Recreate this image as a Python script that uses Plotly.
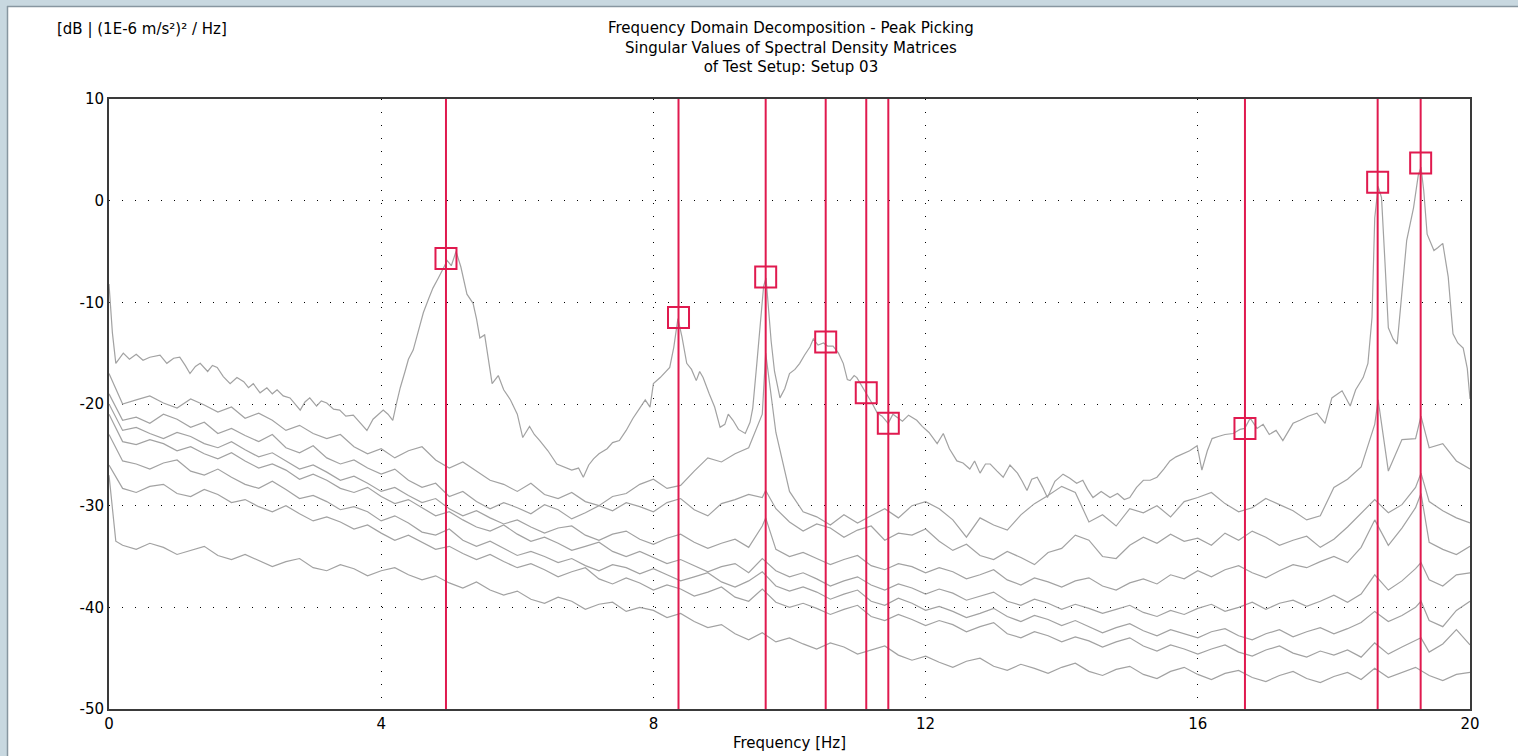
import numpy as np
import plotly.graph_objects as go

# ---------------- data ----------------
# first singular value (own, irregular frequency grid) [Hz], [dB]
sv1_f = [0.00, 0.05, 0.10, 0.21, 0.30, 0.40, 0.50, 0.60, 0.75, 0.85, 0.95, 1.04, 1.12, 1.19, 1.27, 1.34,
         1.45, 1.52, 1.59, 1.68, 1.78, 1.88, 1.98, 2.05, 2.12, 2.22, 2.32, 2.40, 2.47, 2.56, 2.66, 2.74,
         2.81, 2.88, 2.95, 3.05, 3.12, 3.20, 3.30, 3.39, 3.48, 3.59, 3.68, 3.79, 3.88, 3.96, 4.03, 4.10,
         4.17, 4.23, 4.28, 4.35, 4.40, 4.47, 4.55, 4.62, 4.70, 4.76, 4.84, 4.90, 4.97, 5.03, 5.10, 5.17,
         5.26, 5.35, 5.40, 5.45, 5.52, 5.63, 5.72, 5.80, 5.90, 6.00, 6.08, 6.18, 6.25, 6.33, 6.45, 6.58,
         6.68, 6.80, 6.90, 6.97, 7.05, 7.12, 7.20, 7.32, 7.40, 7.50, 7.60, 7.70, 7.80, 7.88, 7.95, 8.00,
         8.10, 8.18, 8.24, 8.30, 8.36, 8.42, 8.49, 8.56, 8.63, 8.68, 8.73, 8.82, 8.90, 8.98, 9.05, 9.10,
         9.17, 9.25, 9.35, 9.42, 9.46, 9.52, 9.57, 9.62, 9.655, 9.69, 9.73, 9.78, 9.86, 9.93, 10.00, 10.08,
         10.15, 10.22, 10.30, 10.35, 10.42, 10.50, 10.56, 10.64, 10.72, 10.79, 10.85, 10.89, 10.95, 10.99,
         11.06, 11.14, 11.22, 11.29, 11.36, 11.45, 11.52, 11.58, 11.66, 11.75, 11.87, 11.95, 12.05, 12.17,
         12.26, 12.35, 12.46, 12.55, 12.65, 12.72, 12.80, 12.88, 12.95, 13.05, 13.14, 13.24, 13.35, 13.42,
         13.49, 13.56, 13.64, 13.72, 13.79, 13.90, 14.02, 14.12, 14.22, 14.31, 14.38, 14.46, 14.58, 14.71,
         14.82, 14.92, 15.00, 15.10, 15.20, 15.30, 15.40, 15.50, 15.59, 15.68, 15.78, 15.88, 15.99, 16.06,
         16.14, 16.21, 16.30, 16.40, 16.52, 16.62, 16.69, 16.77, 16.87, 16.96, 17.05, 17.15, 17.25, 17.40,
         17.50, 17.62, 17.75, 17.87, 17.97, 18.05, 18.12, 18.24, 18.32, 18.43, 18.50, 18.56, 18.60, 18.65,
         18.70, 18.75, 18.80, 18.87, 18.93, 19.00, 19.07, 19.17, 19.24, 19.28, 19.32, 19.37, 19.47, 19.53,
         19.60, 19.68, 19.75, 19.82, 19.90, 19.96, 20.00]
sv1_db = [-8.2, -13.0, -16.0, -15.0, -15.6, -15.1, -15.7, -15.4, -15.2, -16.0, -15.5, -15.4, -16.2, -17.0, -16.3, -16.0,
          -16.8, -16.2, -16.4, -17.3, -18.0, -17.4, -17.8, -18.4, -18.0, -18.9, -18.4, -19.0, -18.6, -19.2, -19.4, -20.0,
          -20.6, -19.8, -19.4, -20.2, -19.7, -19.9, -20.5, -20.6, -21.2, -21.1, -21.8, -22.6, -21.5, -21.0, -20.6, -21.0,
          -21.6, -19.8, -18.4, -16.8, -15.6, -14.7, -12.6, -11.0, -9.6, -8.6, -7.6, -6.8, -5.9, -6.4, -5.0, -6.5,
          -9.2, -10.1, -11.6, -13.5, -13.2, -18.0, -17.2, -18.6, -19.6, -21.0, -23.3, -22.2, -23.0, -23.6, -24.6, -25.9,
          -26.2, -26.5, -26.3, -27.2, -26.0, -25.4, -24.9, -24.4, -23.8, -23.6, -22.6, -21.4, -20.4, -19.6, -20.3, -18.0,
          -17.4, -16.8, -16.4, -14.4, -11.6, -13.4, -16.0, -16.6, -17.7, -16.8, -17.4, -19.0, -20.3, -22.3, -22.0, -21.0,
          -21.6, -22.5, -22.9, -21.8, -20.4, -16.0, -12.1, -8.4, -7.6, -10.6, -13.8, -16.8, -19.4, -18.5, -17.0, -16.6,
          -16.0, -15.2, -14.4, -13.6, -14.2, -14.0, -14.3, -14.3, -15.0, -16.0, -17.6, -17.7, -17.2, -17.4,
          -18.2, -19.0, -20.0, -20.9, -21.2, -21.9, -21.0, -21.3, -21.7, -21.1, -21.6, -22.2, -22.8, -23.9,
          -22.9, -24.4, -25.6, -25.8, -26.4, -25.6, -26.8, -25.9, -25.9, -26.6, -27.2, -26.0, -26.8, -27.6,
          -28.5, -27.4, -27.2, -28.2, -29.2, -27.6, -26.9, -27.3, -27.8, -27.5, -28.4, -29.2, -28.6, -29.2,
          -28.8, -29.4, -29.2, -28.2, -27.5, -27.5, -27.2, -26.4, -25.6, -25.2, -24.9, -24.6, -24.1, -26.5,
          -24.6, -23.4, -23.2, -23.0, -22.9, -22.5, -22.4, -21.4, -22.4, -22.0, -23.0, -22.6, -23.6, -21.9,
          -21.6, -21.2, -20.9, -21.9, -19.4, -19.0, -18.7, -20.2, -18.6, -17.4, -16.0, -11.5, -1.7, 1.4,
          0.3, -6.0, -12.5, -13.6, -14.1, -9.0, -3.9, -0.7, 2.5, 3.3, 1.0, -3.3, -4.9, -4.6,
          -4.2, -7.5, -13.1, -14.0, -14.5, -16.5, -19.5]

# lower singular values on a common 0.2 Hz grid (0.0 ... 20.0), plus a few extra points at the peaks
sv2_db = [-17.0, -20.0, -19.6, -19.2, -19.9, -20.4, -19.5, -20.1, -20.8, -20.3,
          -21.4, -20.9, -21.6, -22.6, -22.1, -22.9, -23.4, -23.0, -24.2, -24.9,
          -24.4, -25.3, -24.6, -24.2, -25.5, -26.3, -25.7, -26.6, -27.5, -27.9,
          -28.6, -27.8, -28.9, -29.3, -28.7, -29.6, -30.0, -29.1, -28.8, -27.9,
          -27.4, -28.3, -28.0, -26.6, -25.3, -25.7, -24.9, -24.3, -21.0, -22.8,
          -28.6, -30.6, -31.1, -31.9, -30.9, -31.7, -31.0, -30.3, -31.2, -30.0,
          -29.6, -30.3, -31.4, -33.1, -31.2, -31.9, -32.4, -30.9, -29.8, -29.0,
          -28.1, -28.7, -31.6, -30.9, -32.0, -30.3, -30.7, -30.0, -31.1, -29.6,
          -29.2, -28.7, -29.8, -30.6, -30.2, -29.3, -29.9, -30.5, -31.4, -31.0,
          -28.2, -27.4, -26.2, -22.0, -26.6, -23.5, -23.4, -24.3, -23.9, -25.6,
          -26.4]
sv2_xf = [9.65, 18.65, 19.28]
sv2_xv = [-15.0, -19.6, -21.2]

sv3_db = [-19.0, -21.6, -21.3, -21.9, -21.0, -21.5, -22.3, -21.8, -22.9, -22.4,
          -23.1, -23.7, -23.0, -24.3, -24.8, -24.1, -25.3, -25.9, -25.5, -26.3,
          -26.9, -26.4, -27.5, -28.2, -27.8, -29.1, -28.6, -29.6, -30.3, -29.7,
          -30.2, -30.8, -29.9, -30.4, -31.3, -30.7, -30.0, -30.5, -29.7, -30.1,
          -30.6, -29.7, -29.3, -30.4, -31.0, -29.8, -29.4, -28.9, -29.2, -30.3,
          -31.6, -32.5, -31.8, -32.2, -33.1, -32.4, -32.0, -33.4, -32.7, -32.9,
          -32.3, -33.5, -34.4, -33.8, -34.9, -35.3, -34.5, -35.1, -35.8, -34.6,
          -34.2, -32.9, -33.4, -35.0, -35.2, -33.9, -33.1, -33.7, -32.8, -33.5,
          -33.2, -33.9, -32.7, -33.4, -32.5, -33.1, -33.9, -33.4, -33.0, -34.1,
          -33.3, -32.1, -30.8, -29.4, -30.7, -29.9, -28.2, -29.6, -30.5, -31.2,
          -31.7]
sv3_xf = [9.65, 19.28]
sv3_xv = [-28.5, -26.8]

sv4_db = [-20.0, -22.6, -22.3, -22.9, -23.4, -22.8, -23.2, -23.9, -24.3, -23.7,
          -24.5, -25.2, -24.8, -25.6, -26.4, -26.0, -26.7, -27.5, -27.1, -27.8,
          -28.6, -28.2, -29.0, -29.7, -29.3, -30.3, -31.0, -30.5, -31.2, -31.8,
          -31.4, -32.1, -32.7, -32.2, -32.0, -32.9, -33.4, -32.8, -32.5, -33.3,
          -33.8, -33.2, -32.8, -33.6, -34.2, -33.7, -33.3, -34.1, -32.0, -34.3,
          -35.0, -34.6, -35.2, -35.8, -35.3, -34.9, -35.9, -36.3, -35.7, -36.0,
          -36.6, -36.1, -36.5, -37.2, -36.8, -36.3, -37.3, -37.8, -37.1, -37.5,
          -38.0, -37.4, -37.1, -37.9, -38.3, -37.6, -37.2, -37.7, -36.8, -37.2,
          -36.4, -37.0, -36.3, -35.9, -36.6, -37.1, -36.4, -35.8, -36.1, -35.5,
          -35.0, -35.6, -34.1, -31.4, -33.9, -32.2, -30.2, -33.6, -34.3, -34.8,
          -34.0]
sv4_xf = [9.65, 19.28]
sv4_xv = [-31.2, -28.8]

sv5_db = [-21.0, -23.7, -24.0, -23.5, -23.9, -24.6, -24.2, -24.9, -25.4, -24.8,
          -25.6, -26.3, -25.9, -26.5, -27.4, -26.9, -27.5, -28.3, -28.7, -28.2,
          -29.1, -29.8, -29.4, -30.2, -31.0, -30.6, -31.4, -32.1, -32.5, -31.9,
          -32.8, -33.5, -33.1, -33.7, -34.4, -34.0, -33.6, -34.5, -35.0, -34.5,
          -35.1, -35.7, -35.3, -35.9, -36.5, -36.0, -35.7, -36.6, -35.2, -36.4,
          -37.0, -36.6, -37.2, -37.9, -37.4, -37.0, -37.8, -38.3, -37.7, -38.1,
          -38.7, -38.2, -38.6, -39.3, -38.9, -38.5, -39.4, -39.8, -39.2, -39.6,
          -40.2, -39.7, -40.1, -40.6, -40.2, -39.8, -40.5, -40.9, -40.3, -40.7,
          -40.1, -39.7, -40.4, -40.0, -39.5, -40.2, -39.6, -39.3, -39.9, -39.4,
          -38.8, -39.5, -38.7, -36.8, -38.3, -37.4, -36.2, -37.3, -37.9, -36.8,
          -36.6]
sv5_xf = [19.28]
sv5_xv = [-35.6]

sv6_db = [-23.0, -25.6, -25.9, -26.4, -25.8, -25.5, -26.6, -27.0, -26.4, -27.2,
          -27.9, -28.3, -27.6, -28.4, -29.3, -29.0, -29.6, -30.4, -30.1, -30.6,
          -31.5, -31.0, -31.7, -32.6, -32.9, -32.3, -33.4, -34.0, -33.5, -34.2,
          -34.9, -34.5, -35.0, -35.6, -35.2, -35.9, -36.4, -35.8, -36.1, -36.7,
          -36.2, -36.8, -37.4, -37.0, -36.6, -37.5, -38.0, -37.4, -36.5, -37.9,
          -38.4, -38.0, -38.5, -39.2, -38.7, -38.3, -39.4, -39.8, -39.1, -39.6,
          -40.3, -39.9, -40.4, -41.0, -40.6, -40.1, -40.9, -41.4, -40.8, -41.2,
          -41.8, -41.3, -41.9, -42.5, -42.0, -41.6, -42.3, -42.8, -42.2, -42.6,
          -43.0, -42.4, -42.1, -42.8, -43.2, -42.6, -42.2, -42.9, -42.4, -42.0,
          -42.6, -42.1, -41.5, -40.4, -41.4, -40.8, -40.0, -41.3, -41.9, -40.3,
          -39.4]
sv6_xf = [19.28]
sv6_xv = [-39.4]

sv7_db = [-26.0, -28.3, -28.7, -28.1, -27.9, -28.8, -29.1, -28.4, -28.9, -29.7,
          -29.4, -30.1, -30.6, -30.0, -30.8, -31.5, -31.1, -31.6, -32.3, -31.9,
          -32.7, -33.4, -32.9, -33.6, -34.3, -34.0, -34.7, -35.3, -34.8, -35.5,
          -36.1, -35.7, -36.3, -37.0, -36.5, -36.1, -37.2, -37.7, -37.1, -37.6,
          -38.3, -37.8, -38.2, -38.9, -38.5, -38.0, -39.0, -39.4, -38.2, -39.5,
          -40.0, -39.6, -40.1, -40.7, -40.2, -39.8, -40.9, -41.3, -40.7, -41.2,
          -41.8, -41.3, -41.7, -42.4, -41.9, -41.5, -42.6, -43.0, -42.4, -42.8,
          -43.4, -42.9, -43.3, -43.9, -43.4, -43.0, -43.8, -44.3, -43.7, -44.1,
          -44.6, -44.1, -43.7, -44.4, -44.8, -44.2, -43.8, -44.5, -44.9, -44.3,
          -44.7, -44.2, -44.9, -43.5, -44.6, -43.9, -43.2, -44.4, -43.6, -42.2,
          -43.7]
sv7_xf = [19.28]
sv7_xv = [-43.0]

sv8_db = [-27.0, -33.9, -34.3, -33.7, -34.1, -34.8, -34.4, -34.0, -34.9, -35.3,
          -34.8, -35.4, -36.0, -35.5, -35.2, -36.1, -36.4, -35.8, -36.2, -36.9,
          -36.4, -36.1, -36.8, -37.3, -36.9, -37.6, -38.1, -37.5, -38.3, -38.8,
          -38.4, -39.2, -39.6, -39.0, -39.4, -40.2, -39.7, -39.5, -40.4, -40.0,
          -40.3, -41.0, -40.6, -41.4, -42.0, -41.7, -42.6, -43.2, -42.5, -43.4,
          -43.0, -43.6, -44.1, -43.5, -43.9, -44.6, -44.2, -43.8, -44.7, -45.2,
          -44.8, -45.4, -45.9, -45.3, -45.0, -45.8, -46.2, -45.6, -46.0, -46.5,
          -45.9, -45.5, -46.3, -46.7, -46.1, -45.8, -46.6, -47.0, -46.3, -45.9,
          -46.6, -47.1, -46.5, -46.2, -46.9, -47.3, -46.7, -46.3, -47.0, -47.4,
          -46.8, -46.4, -47.1, -46.0, -46.9, -46.4, -45.9, -46.7, -47.2, -46.6,
          -46.4]
sv8_xf = [0.1]
sv8_xv = [-33.5]

# picked peaks
peak_freq = [4.952, 8.369, 9.650, 10.532, 11.128, 11.452, 16.693, 18.643, 19.275]
peak_db = [-5.7, -11.5, -7.5, -13.9, -18.9, -21.9, -22.4, 1.8, 3.7]

x_ticks = [0, 4, 8, 12, 16, 20]
y_ticks = [-50, -40, -30, -20, -10, 0, 10]

title_lines = ["Frequency Domain Decomposition - Peak Picking",
               "Singular Values of Spectral Density Matrices",
               "of Test Setup: Setup 03"]
y_unit = "[dB | (1E-6 m/s²)² / Hz]"
x_title = "Frequency [Hz]"

# ---------------- figure ----------------
W, H = 1518, 756
L, R, T, B = 109, 48, 99, 47
PW, PH = W - L - R, H - T - B
GRAY = "#a2a2a2"
RED = "#e01a4f"
FONT = "DejaVu Sans, Verdana, sans-serif"

low_grid = np.round(np.arange(0, 20.0001, 0.2), 1)


def merged(vals, ef, ev):
    f = np.concatenate([low_grid, np.array(ef, dtype=float)])
    v = np.concatenate([np.array(vals, dtype=float), np.array(ev, dtype=float)])
    o = np.argsort(f, kind="stable")
    return f[o], v[o]


fig = go.Figure()
lower = [(sv8_db, sv8_xf, sv8_xv), (sv7_db, sv7_xf, sv7_xv), (sv6_db, sv6_xf, sv6_xv),
         (sv5_db, sv5_xf, sv5_xv), (sv4_db, sv4_xf, sv4_xv), (sv3_db, sv3_xf, sv3_xv),
         (sv2_db, sv2_xf, sv2_xv)]
for vals, ef, ev in lower:
    fx, fy = merged(vals, ef, ev)
    fig.add_trace(go.Scatter(x=fx, y=fy, mode="lines", line=dict(color=GRAY, width=1.2),
                             hoverinfo="skip", showlegend=False))
fig.add_trace(go.Scatter(x=sv1_f, y=sv1_db, mode="lines", line=dict(color=GRAY, width=1.2),
                         hoverinfo="skip", showlegend=False))

for f in peak_freq:
    fig.add_vline(x=f, line_color=RED, line_width=2)

fig.add_trace(go.Scatter(x=peak_freq, y=peak_db, mode="markers",
                         marker=dict(symbol="square-open", size=21, color=RED, line=dict(color=RED, width=2)),
                         hoverinfo="skip", showlegend=False))


def px_x(px):
    return (px - L) / PW


def px_y(py):
    return (H - B - py) / PH


# window frame (top and left light strip with darker inner edge)
fig.add_shape(type="rect", xref="paper", yref="paper", x0=px_x(0), x1=px_x(W), y0=px_y(6), y1=px_y(0),
              fillcolor="#c8d8e0", line_width=0, layer="below")
fig.add_shape(type="rect", xref="paper", yref="paper", x0=px_x(0), x1=px_x(7), y0=px_y(H), y1=px_y(0),
              fillcolor="#c8d8e0", line_width=0, layer="below")
fig.add_shape(type="line", xref="paper", yref="paper", x0=px_x(7), x1=px_x(W), y0=px_y(6.5), y1=px_y(6.5),
              line=dict(color="#8796a0", width=1.5), layer="below")
fig.add_shape(type="line", xref="paper", yref="paper", x0=px_x(7.5), x1=px_x(7.5), y0=px_y(H), y1=px_y(6),
              line=dict(color="#8796a0", width=1.5), layer="below")

fig.add_annotation(xref="paper", yref="paper", x=px_x(55), y=px_y(29), xanchor="left", yanchor="middle",
                   text=y_unit, showarrow=False, font=dict(family=FONT, size=15, color="black"))
fig.add_annotation(xref="paper", yref="paper", x=px_x(791), y=px_y(48), xanchor="center", yanchor="middle",
                   text="<br>".join(title_lines), showarrow=False, align="center",
                   font=dict(family=FONT, size=15, color="black"))

axis_common = dict(showline=True, mirror=True, linecolor="#3a3a3a", linewidth=2, ticks="",
                   showgrid=True, gridcolor="black", gridwidth=1, griddash="1px,12px", zeroline=False,
                   tickfont=dict(family=FONT, size=15, color="black"))
fig.update_xaxes(range=[0, 20], tickvals=x_ticks, ticktext=[str(v) for v in x_ticks],
                 title=dict(text=x_title, font=dict(family=FONT, size=15, color="black"), standoff=5),
                 **axis_common)
fig.update_yaxes(range=[-50, 10], tickvals=y_ticks, ticktext=[str(v) for v in y_ticks], **axis_common)

fig.update_layout(width=W, height=H, margin=dict(l=L, r=R, t=T, b=B, autoexpand=False),
                  paper_bgcolor="white", plot_bgcolor="white", showlegend=False)

fig.write_html("out.html", config={"displayModeBar": False},
               post_script="document.body.style.margin='0';document.body.style.overflow='hidden';")
